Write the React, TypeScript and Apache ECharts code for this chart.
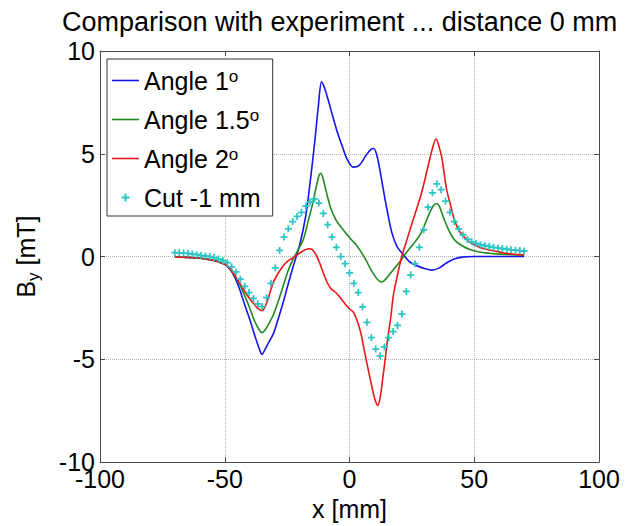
import React, { useEffect, useRef } from "react";
import * as echarts from "echarts";

const FONT = "'Liberation Sans', Arial, sans-serif";

const xTicks = [-100, -50, 0, 50, 100];
const yTicks = [-10, -5, 0, 5, 10];

// Angle 1°
const angle1X = [-70, -65, -60, -55, -50, -48, -46, -44, -42, -40, -38.5, -37, -35.5, -35, -34, -32.5, -30.5, -28.5, -26.5, -24.5, -22.5, -20, -17.5, -15.5, -14, -12.5, -11.2, -10, -8.5, -7, -5, -3, -1, 1.5, 4, 6.5, 8.5, 9.8, 11, 12.2, 13.5, 15, 17, 19, 21.5, 24, 27, 30, 33, 36, 39, 42, 45, 50, 55, 60, 65, 70];
const angle1Y = [-0.02, -0.04, -0.08, -0.17, -0.38, -0.6, -1.0, -1.6, -2.35, -3.05, -3.63, -4.2, -4.7, -4.76, -4.55, -4.2, -3.75, -3.0, -2.2, -1.3, -0.45, 0.55, 2.0, 3.9, 5.5, 7.3, 8.5, 8.2, 7.6, 6.95, 6.1, 5.4, 4.75, 4.35, 4.45, 4.9, 5.2, 5.26, 4.9, 4.2, 3.3, 2.3, 1.15, 0.5, 0.1, -0.25, -0.45, -0.58, -0.66, -0.55, -0.3, -0.12, -0.03, 0, 0, 0, 0, 0];

// Angle 1.5°
const angle15X = [-70, -65, -60, -55, -50, -48, -46, -44, -42, -40, -38.5, -37, -35.5, -35, -34, -32.5, -30.5, -28.5, -26.5, -24.5, -22.5, -20.5, -18.5, -16.5, -15, -13.5, -12.2, -11.5, -10.5, -9, -7.5, -5.5, -3.5, -1.5, 0.5, 2.5, 4.5, 6.5, 8.5, 10.5, 12, 13, 14.5, 16.5, 18.5, 20.5, 22.5, 24.5, 26.5, 28.5, 30.5, 32, 33.5, 34.8, 36, 37.5, 39, 41, 43, 45.5, 48, 52, 56, 60, 65, 70];
const angle15Y = [-0.02, -0.04, -0.08, -0.17, -0.38, -0.55, -0.9, -1.35, -1.9, -2.5, -3.0, -3.4, -3.68, -3.7, -3.6, -3.3, -2.83, -2.15, -1.4, -0.65, -0.1, 0.35, 0.83, 1.75, 2.45, 3.3, 3.95, 4.05, 3.75, 3.0, 2.35, 1.8, 1.45, 1.15, 0.85, 0.6, 0.25, -0.15, -0.62, -1.0, -1.2, -1.24, -1.1, -0.8, -0.5, -0.2, 0.15, 0.45, 0.75, 1.1, 1.65, 2.1, 2.45, 2.58, 2.45, 1.95, 1.5, 1.0, 0.7, 0.5, 0.35, 0.22, 0.16, 0.12, 0.09, 0.08];

// Angle 2°
const angle2X = [-70, -65, -60, -56, -52, -49, -46.5, -44, -42, -40, -38, -36.5, -35, -33.5, -32, -30.5, -28.5, -26.5, -24.5, -22.5, -20.5, -18.5, -16.5, -15, -13.5, -12, -10.5, -9, -7.5, -6, -4.5, -3, -1.5, 0, 1.5, 3, 4.5, 6, 7.5, 9, 10.2, 11.3, 12.3, 13.3, 14.3, 15, 16.5, 17.6, 19.5, 21, 23, 25, 27, 29, 31, 33, 34.7, 36, 37, 38, 39, 40.5, 41.7, 43.5, 45.7, 48, 51, 54, 58, 62, 66, 70];
const angle2Y = [-0.02, -0.04, -0.07, -0.15, -0.28, -0.45, -0.84, -1.3, -1.7, -2.05, -2.35, -2.55, -2.64, -2.35, -1.8, -1.24, -0.8, -0.44, -0.2, -0.05, 0.12, 0.28, 0.38, 0.35, 0.1, -0.3, -0.8, -1.25, -1.55, -1.7, -1.88, -2.1, -2.35, -2.55, -2.7, -3.1, -3.7, -4.6, -5.5, -6.35, -6.95, -7.24, -6.85, -5.95, -5.0, -4.27, -3.0, -1.88, -0.75, 0.03, 0.8, 1.6, 2.35, 3.15, 4.15, 5.15, 5.73, 5.3, 4.81, 4.0, 3.22, 2.5, 1.94, 1.35, 0.99, 0.72, 0.51, 0.38, 0.27, 0.17, 0.11, 0.07];

// Cut -1 mm (measured)
const cutX = [-70, -68.25, -66.5, -64.75, -63, -61.25, -59.5, -57.75, -56, -54.25, -52.5, -50.75, -49, -47.25, -45.5, -43.75, -42, -40.25, -38.5, -36.75, -35, -33.25, -31.5, -29.75, -28, -26.25, -24.5, -22.75, -21, -19.25, -17.5, -15.75, -14, -12.25, -10.5, -8.75, -7, -5.25, -3.5, -1.75, 0, 1.75, 3.5, 5.25, 7, 8.75, 10.5, 12.25, 14, 15.75, 17.5, 19.25, 21, 22.75, 24.5, 26.25, 28, 29.75, 31.5, 33.25, 35, 36.75, 38.5, 40.25, 42, 43.75, 45.5, 47.25, 49, 50.75, 52.5, 54.25, 56, 57.75, 59.5, 61.25, 63, 64.75, 66.5, 68.25, 70];
const cutY = [0.19, 0.18, 0.17, 0.15, 0.12, 0.09, 0.06, 0.03, 0.0, -0.05, -0.12, -0.2, -0.3, -0.5, -0.75, -1.1, -1.45, -1.75, -2.04, -2.3, -2.44, -2.0, -1.3, -0.55, 0.3, 0.95, 1.35, 1.7, 1.95, 2.15, 2.45, 2.65, 2.8, 2.6, 2.1, 1.55, 0.95, 0.45, 0.0, -0.35, -0.8, -1.3, -1.75, -2.45, -3.2, -3.95, -4.5, -4.83, -4.4, -3.95, -3.65, -3.35, -2.8, -1.7, -0.9, -0.35, 0.45, 1.3, 2.4, 3.1, 3.54, 3.25, 2.7, 2.15, 1.7, 1.35, 1.05, 0.83, 0.72, 0.64, 0.58, 0.53, 0.49, 0.45, 0.42, 0.39, 0.36, 0.33, 0.31, 0.29, 0.27];

const names = ["Angle 1°", "Angle 1.5°", "Angle 2°", "Cut -1 mm"];
const colors = ["#1414f0", "#208a20", "#e81818", "#2cc4c4"];

const pair = (xs: number[], ys: number[]) => xs.map((x, i) => [x, ys[i]]);

const PLUS = "path://M3,0H5V3H8V5H5V8H3V5H0V3H3Z";
const BAR = "path://M0,0H27V1.6H0Z";

export default function App() {
  const ref = useRef<HTMLDivElement>(null);
  useEffect(() => {
    if (!ref.current) return;
    const chart = echarts.init(ref.current, undefined, { renderer: "svg" });
    const axisColor = "#4a4a4a";
    const lineSeries = (i: number, xs: number[], ys: number[]) => ({
      name: names[i],
      type: "line",
      data: pair(xs, ys),
      smooth: 0.3,
      symbol: "none",
      lineStyle: { color: colors[i], width: 1.6 },
      itemStyle: { color: colors[i] },
      z: 3 + i,
    });
    const axisLine = { show: true, onZero: false, lineStyle: { color: axisColor, width: 1 } };
    const axisTick = { show: true, inside: true, length: 5, lineStyle: { color: axisColor } };
    chart.setOption({
      animation: false,
      textStyle: { fontFamily: FONT },
      title: {
        text: "Comparison with experiment ... distance 0 mm",
        left: 62,
        top: 8,
        padding: 0,
        textStyle: { fontSize: 27, fontWeight: "normal", color: "#000", fontFamily: FONT },
      },
      grid: { left: 100, right: 26, top: 51, bottom: 56, containLabel: false },
      legend: {
        orient: "vertical",
        left: 107,
        top: 59,
        padding: [9, 12, 6, 5],
        itemGap: 14,
        itemWidth: 27,
        itemHeight: 8,
        borderColor: "#333",
        borderWidth: 1,
        backgroundColor: "#fff",
        data: [
          { name: names[0], icon: BAR },
          { name: names[1], icon: BAR },
          { name: names[2], icon: BAR },
          { name: names[3], icon: PLUS },
        ],
        formatter: (n: string) => n.replace("°", "{sup|o}"),
        textStyle: {
          fontSize: 25,
          color: "#000",
          fontFamily: FONT,
          rich: { sup: { fontSize: 17, verticalAlign: "top", fontFamily: FONT, color: "#000" } },
        },
      },
      xAxis: [
        {
          type: "value",
          min: xTicks[0],
          max: xTicks[xTicks.length - 1],
          interval: 50,
          position: "bottom",
          name: "x [mm]",
          nameLocation: "middle",
          nameGap: 29,
          nameTextStyle: { fontSize: 25, color: "#000", fontFamily: FONT },
          axisLine,
          axisTick,
          axisLabel: { fontSize: 25, color: "#000", margin: 4, fontFamily: FONT },
          splitLine: { show: true, lineStyle: { type: "dotted", color: "#b4b4b4", width: 1 } },
        },
        {
          type: "value",
          min: xTicks[0],
          max: xTicks[xTicks.length - 1],
          interval: 50,
          position: "top",
          axisLine,
          axisTick,
          axisLabel: { show: false },
          splitLine: { show: false },
        },
      ],
      yAxis: [
        {
          type: "value",
          min: yTicks[0],
          max: yTicks[yTicks.length - 1],
          interval: 5,
          position: "left",
          name: "{b|B}{s|y}{b| [mT]}",
          nameLocation: "middle",
          nameRotate: 90,
          nameGap: 58,
          nameTextStyle: {
            color: "#000",
            fontFamily: FONT,
            rich: {
              b: { fontSize: 25, fontFamily: FONT, color: "#000" },
              s: { fontSize: 17, fontFamily: FONT, color: "#000", verticalAlign: "bottom", padding: [16, 0, 0, 0] },
            },
          },
          axisLine,
          axisTick,
          axisLabel: { fontSize: 25, color: "#000", margin: 5, fontFamily: FONT },
          splitLine: { show: true, lineStyle: { type: "dotted", color: "#b4b4b4", width: 1 } },
        },
        {
          type: "value",
          min: yTicks[0],
          max: yTicks[yTicks.length - 1],
          interval: 5,
          position: "right",
          axisLine,
          axisTick,
          axisLabel: { show: false },
          splitLine: { show: false },
        },
      ],
      series: [
        lineSeries(0, angle1X, angle1Y),
        lineSeries(1, angle15X, angle15Y),
        lineSeries(2, angle2X, angle2Y),
        {
          name: names[3],
          type: "scatter",
          data: pair(cutX, cutY),
          symbol: PLUS,
          symbolSize: 7,
          itemStyle: { color: colors[3], opacity: 1 },
          z: 7,
        },
      ],
    });
    return () => chart.dispose();
  }, []);
  return (
    <div
      ref={ref}
      style={{ position: "fixed", left: 0, top: 0, width: 625, height: 526, background: "#fff" }}
    />
  );
}
